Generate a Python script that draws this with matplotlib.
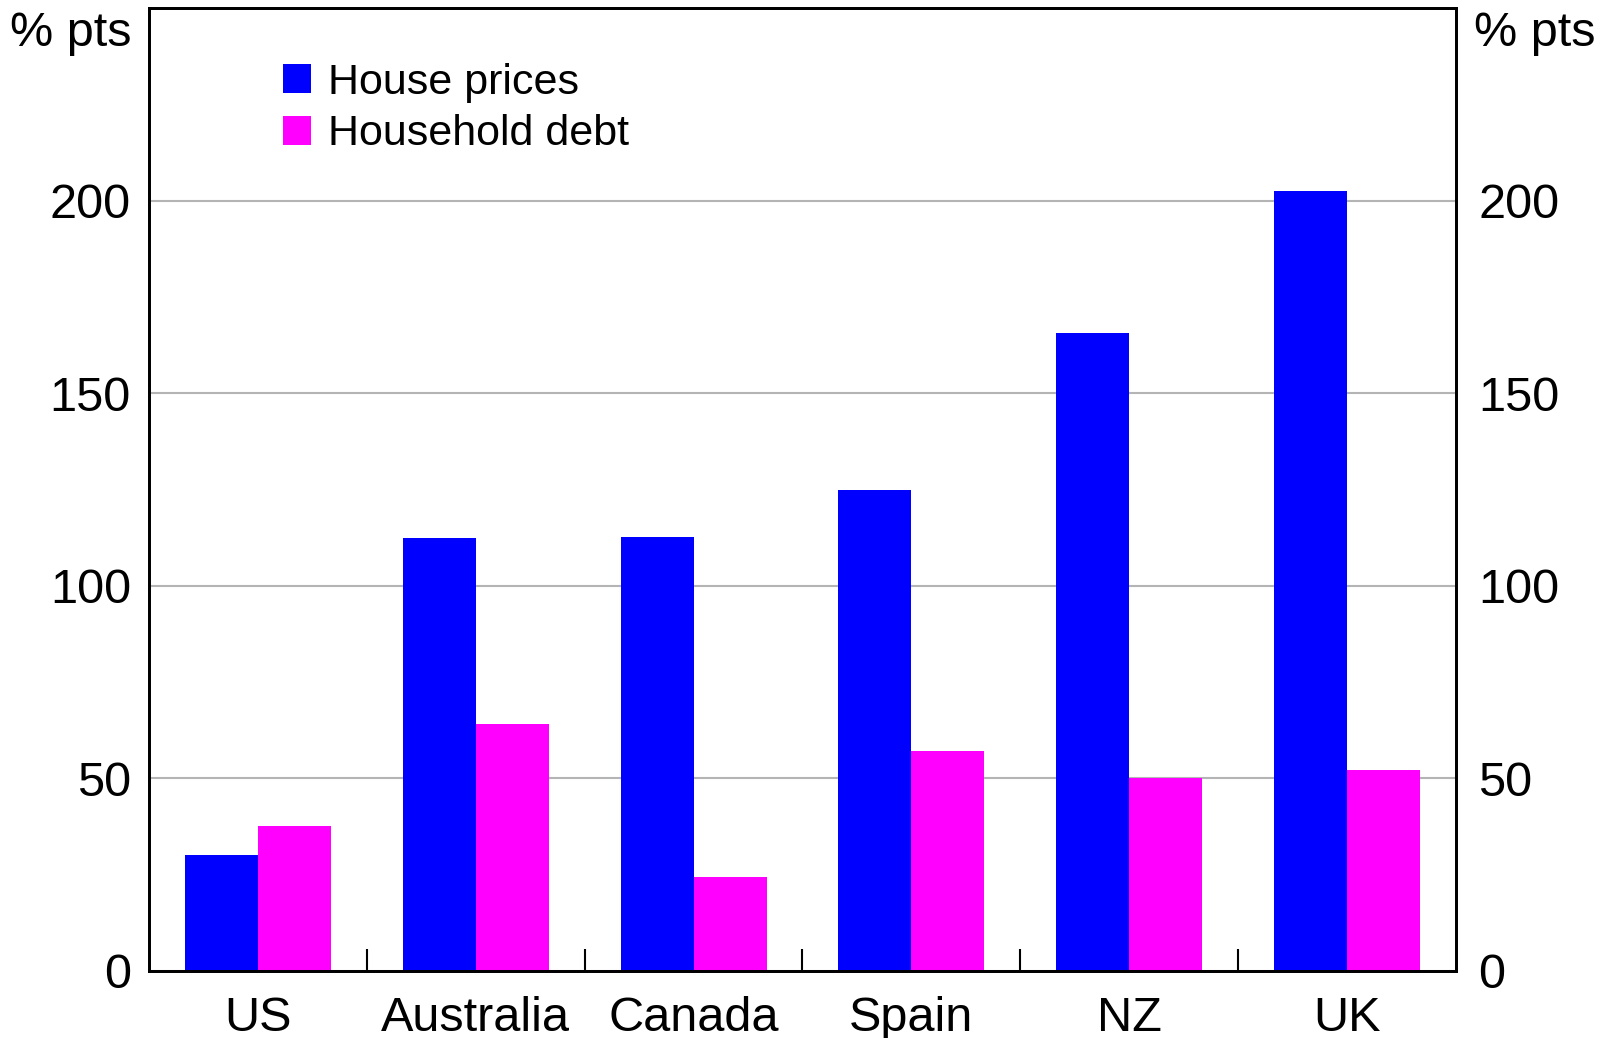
import numpy as np
import matplotlib
matplotlib.use('Agg')
import matplotlib.pyplot as plt
from matplotlib.ticker import FixedLocator

plt.rcParams['font.family'] = ['Liberation Sans', 'DejaVu Sans']

# Data (% pts)
countries = ['US', 'Australia', 'Canada', 'Spain', 'NZ', 'UK']
house_prices = [30, 112.5, 112.7, 125, 165.5, 202.5]
household_debt = [37.7, 64, 24.5, 57.2, 50, 52.2]

blue = '#0000ff'
pink = '#ff00ff'

fig = plt.figure(figsize=(16.04, 10.38), dpi=100)
ax = fig.add_axes([149 / 1604, 1 - 971 / 1038, (1456 - 149) / 1604, (971 - 8) / 1038])

x = np.arange(len(countries))
w = 0.335
ax.bar(x - w / 2, house_prices, width=w, color=blue, label='House prices')
ax.bar(x + w / 2, household_debt, width=w, color=pink, label='Household debt')

ax.set_xlim(-0.5, len(countries) - 0.5)
ax.set_ylim(0, 250)
ax.set_yticks([0, 50, 100, 150, 200])
ax.yaxis.grid(True, color='#b4b4b4', linewidth=1.5)
ax.set_axisbelow(True)

ax.set_xticks(x)
ax.set_xticklabels(countries, fontsize=35)
ax.tick_params(axis='x', which='major', length=0, pad=18)
ax.xaxis.set_minor_locator(FixedLocator(x[:-1] + 0.5))
ax.tick_params(axis='x', which='minor', direction='in', length=16, width=1.5, color='black')

ax.tick_params(axis='y', which='major', length=0, labelsize=35, pad=13)

# right-hand labels on a twin axis so they get their own padding
ax2 = ax.twinx()
ax2.set_ylim(ax.get_ylim())
ax2.set_yticks([0, 50, 100, 150, 200])
ax2.tick_params(axis='y', length=0, labelsize=35, pad=16)

for a in (ax, ax2):
    for s in a.spines.values():
        s.set_linewidth(2)
        s.set_color('black')

fig.text(10 / 1604, 1 - 33 / 1038, '% pts', fontsize=35, ha='left', va='center')
fig.text(1596 / 1604, 1 - 33 / 1038, '% pts', fontsize=35, ha='right', va='center')

ax.legend(loc='upper left', bbox_to_anchor=(0.089, 0.961), frameon=False, fontsize=31,
          handlelength=0.65, handleheight=0.65, handletextpad=0.4, labelspacing=0.27,
          borderaxespad=0)

fig.savefig('out.png', dpi=100)
